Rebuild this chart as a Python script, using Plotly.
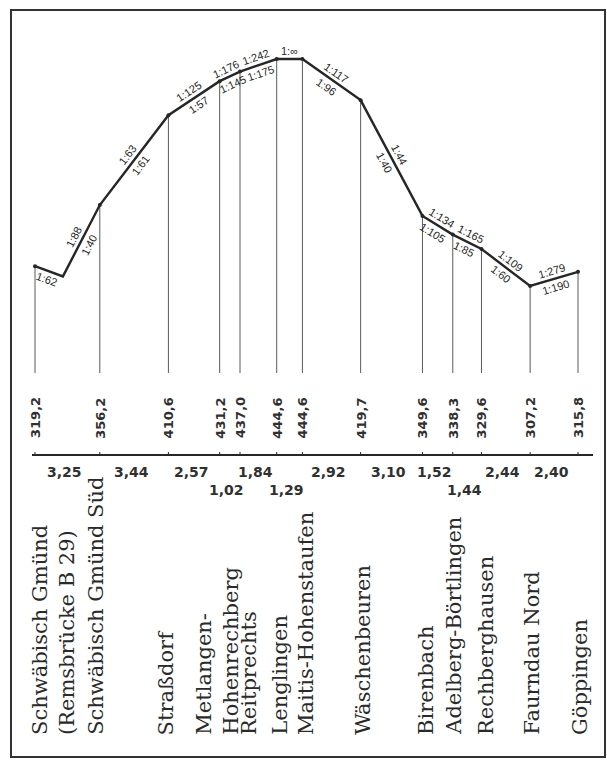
import math
import plotly.graph_objects as go

# ---------------- data ----------------
station_name_lines = [
    ["Schwäbisch Gmünd", "(Remsbrücke B 29)"],
    ["Schwäbisch Gmünd Süd"],
    ["Straßdorf"],
    ["Metlangen-", "Hohenrechberg"],
    ["Reitprechts"],
    ["Lenglingen"],
    ["Maitis-Hohenstaufen"],
    ["Wäschenbeuren"],
    ["Birenbach"],
    ["Adelberg-Börtlingen"],
    ["Rechberghausen"],
    ["Faurndau Nord"],
    ["Göppingen"],
]
segment_km = [3.25, 3.44, 2.57, 1.02, 1.84, 1.29, 2.92, 3.10, 1.52, 1.44, 2.44, 2.40]
segment_labels = ["3,25", "3,44", "2,57", "1,02", "1,84", "1,29", "2,92", "3,10", "1,52", "1,44", "2,44", "2,40"]
elevation_m = [319.2, 356.2, 410.6, 431.2, 437.0, 444.6, 444.6, 419.7, 349.6, 338.3, 329.6, 307.2, 315.8]
elevation_labels = ["319,2", "356,2", "410,6", "431,2", "437,0", "444,6", "444,6", "419,7",
                    "349,6", "338,3", "329,6", "307,2", "315,8"]
# low point under the Rems bridge between the first two stations
dip_km = 1.40
dip_m = 313.0
# gradients of each drawn profile segment (upper / lower text)
gradient_upper = ["", "1:88", "1:63", "1:125", "1:176", "1:242", "1:∞", "1:117", "1:44",
                  "1:134", "1:165", "1:109", "1:279"]
gradient_lower = ["1:62", "1:40", "1:61", "1:57", "1:145", "1:175", "", "1:96", "1:40",
                  "1:105", "1:85", "1:60", "1:190"]

# ---------------- layout constants (pixels) ----------------
W, H = 607, 761
X_FIRST_PX, X_LAST_PX = 35, 578
Y_MAX_PX = 59
PX_PER_M = 1.652
STEM_BOTTOM_PX = 373
ELEV_LABEL_PX = 418
AXIS_LINE_PX = 455
DIST_ROW_PX = [472, 490]
NAME_BOTTOM_PX = 737
name_xshift = [18, -4, -2, -3, 9, 3, 3, 2, 3, 1, 4, 1, 2]

station_km = [0.0]
for d in segment_km:
    station_km.append(station_km[-1] + d)
total_km = station_km[-1]
px_per_km = (X_LAST_PX - X_FIRST_PX) / total_km
x_range = [-X_FIRST_PX / px_per_km, (W - X_FIRST_PX) / px_per_km]
elev_top = max(elevation_m) + Y_MAX_PX / PX_PER_M
y_range = [elev_top - H / PX_PER_M, elev_top]


def kx(km):
    return X_FIRST_PX + km * px_per_km


def ey(m):
    return (elev_top - m) * PX_PER_M


def py(px):
    return 1 - px / H


profile_km = [station_km[0], dip_km] + station_km[1:]
profile_m = [elevation_m[0], dip_m] + elevation_m[1:]

INK = "#262626"
fig = go.Figure()

# station stems
stem_base = elev_top - STEM_BOTTOM_PX / PX_PER_M
sx, sy = [], []
for k, m in zip(station_km, elevation_m):
    sx += [k, k, None]
    sy += [m, stem_base, None]
fig.add_trace(go.Scatter(x=sx, y=sy, mode="lines", line=dict(color="#5a5a5a", width=1),
                         hoverinfo="skip", showlegend=False))

# profile line
fig.add_trace(go.Scatter(x=profile_km, y=profile_m, mode="lines",
                         line=dict(color=INK, width=2.4), showlegend=False))
fig.add_trace(go.Scatter(x=station_km, y=elevation_m, mode="markers",
                         marker=dict(color=INK, size=4), showlegend=False))

annotations = []

# gradient labels along each segment
for i in range(len(profile_km) - 1):
    x1, y1 = kx(profile_km[i]), ey(profile_m[i])
    x2, y2 = kx(profile_km[i + 1]), ey(profile_m[i + 1])
    dx, dy = x2 - x1, y2 - y1
    L = math.hypot(dx, dy)
    ux, uy = dx / L, dy / L
    nx, ny = uy, -ux  # screen-up normal
    ang = math.degrees(math.atan2(dy, dx))
    mk = (profile_km[i] + profile_km[i + 1]) / 2
    mm = (profile_m[i] + profile_m[i + 1]) / 2
    for txt, sgn in ((gradient_upper[i], 1), (gradient_lower[i], -1)):
        if not txt:
            continue
        off = 8.5 * sgn
        annotations.append(dict(
            x=mk, y=mm, xref="x", yref="y", text=txt, showarrow=False,
            textangle=ang, xshift=nx * off, yshift=-ny * off,
            font=dict(family="Liberation Sans, Arial, sans-serif", size=11, color=INK)))

# elevation labels
for k, lab in zip(station_km, elevation_labels):
    annotations.append(dict(
        x=k, y=py(ELEV_LABEL_PX), xref="x", yref="paper", text="<b>" + lab + "</b>",
        showarrow=False, textangle=-90, xanchor="center", yanchor="middle",
        font=dict(family="DejaVu Sans, sans-serif", size=13, color="#303030")))

# distance labels
for i, (d, lab) in enumerate(zip(segment_km, segment_labels)):
    mid = (station_km[i] + station_km[i + 1]) / 2
    row = 1 if d < 1.5 else 0
    annotations.append(dict(
        x=mid, y=py(DIST_ROW_PX[row]), xref="x", yref="paper", text="<b>" + lab + "</b>",
        showarrow=False, xanchor="center", yanchor="middle", xshift=-3,
        font=dict(family="DejaVu Sans, sans-serif", size=14, color="#303030")))

# station names
for k, lines, xs in zip(station_km, station_name_lines, name_xshift):
    annotations.append(dict(
        x=k, y=py(NAME_BOTTOM_PX), xref="x", yref="paper", text="<br>".join(lines),
        showarrow=False, textangle=-90, xanchor="center", yanchor="bottom", align="left",
        xshift=xs,
        font=dict(family="DejaVu Serif, serif", size=21, color="#2a2a2a")))

shapes = []
# distance axis line
shapes.append(dict(type="line", xref="paper", yref="paper",
                   x0=32 / W, x1=593 / W, y0=py(AXIS_LINE_PX), y1=py(AXIS_LINE_PX),
                   line=dict(color=INK, width=2)))
for k in station_km:
    shapes.append(dict(type="line", xref="x", yref="paper", x0=k, x1=k,
                       y0=py(AXIS_LINE_PX), y1=py(AXIS_LINE_PX - 3),
                       line=dict(color=INK, width=1)))
# frame
shapes.append(dict(type="rect", xref="paper", yref="paper",
                   x0=11 / W, x1=605 / W, y0=py(757), y1=py(10),
                   line=dict(color="#333333", width=2)))

fig.update_layout(
    width=W, height=H, margin=dict(l=0, r=0, t=0, b=0),
    paper_bgcolor="white", plot_bgcolor="white",
    xaxis=dict(range=x_range, visible=False, fixedrange=True),
    yaxis=dict(range=y_range, visible=False, fixedrange=True),
    annotations=annotations, shapes=shapes, showlegend=False,
)

fig.write_html("out.html", config={"displayModeBar": False},
               post_script="document.body.style.margin='0px';document.body.style.overflow='hidden';")
